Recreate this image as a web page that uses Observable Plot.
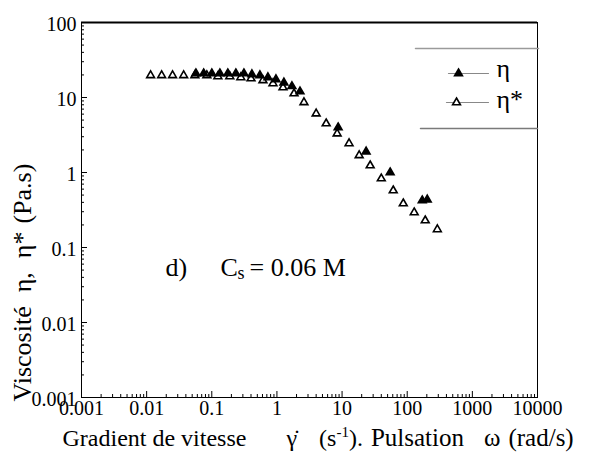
<!DOCTYPE html>
<html><head><meta charset="utf-8">
<script src="https://cdn.jsdelivr.net/npm/d3@7"></script>
<script src="https://cdn.jsdelivr.net/npm/@observablehq/plot@0.6"></script>
<style>
body{margin:0;background:#fff}
svg{font-family:"Liberation Serif",serif}
</style>
</head><body><div id="chart"></div>
<script>
// η* (open triangles) — complex viscosity vs pulsation ω (rad/s)
const etaStarX = [0.0115,0.017,0.025,0.037,0.055,0.084,0.124,0.189,0.279,0.40,0.61,0.87,1.24,1.83,2.6,4.0,5.7,8.4,12.8,18.3,27,40,61,87,128,189,290];
const etaStarY = [19.7,19.7,19.7,19.7,19.7,19.7,19.1,19.1,18.5,17.9,16.9,15.4,13.6,11.3,8.6,6.1,4.5,3.3,2.44,1.69,1.24,0.83,0.575,0.386,0.293,0.229,0.174];
// η (filled triangles) — steady shear viscosity vs shear rate (s-1)
const etaX = [0.057,0.075,0.10,0.133,0.176,0.234,0.311,0.413,0.548,0.727,0.966,1.28,1.70,2.26,8.7,23.4,54.7,170,203];
const etaY = [20.9,20.9,20.9,20.9,20.9,20.9,20.9,20.3,19.7,18.5,17.4,15.8,14.1,12.0,3.98,1.9,1.0,0.423,0.434];

const xTicks = [0.001,0.01,0.1,1,10,100,1000,10000];
const xTickLabels = ["0.001","0.01","0.1","1","10","100","1000","10000"];
const yTicks = [0.001,0.01,0.1,1,10,100];
const yTickLabels = ["0.001","0.01","0.1","1","10","100"];

const legendLabels = ["η","η*"];
const annotation = "d)";
const annotationC = "C";
const annotationS = "s";
const annotationRest = "= 0.06 M";
const xLabel = "Gradient de vitesse";
const yLabel = "Viscosité";

const xLab = new Map(xTicks.map((d,i)=>[d,xTickLabels[i]]));
const yLab = new Map(yTicks.map((d,i)=>[d,yTickLabels[i]]));
const minor = (decades) => decades.slice(0,-1).flatMap(d => [2,3,4,5,6,7,8,9].map(k => +(d*k).toPrecision(3)));
const xMinor = minor(xTicks);
const yMinor = minor(yTicks);

const etaStar = etaStarX.map((x,i)=>({x, y: etaStarY[i]}));
const eta = etaX.map((x,i)=>({x, y: etaY[i]}));

const W = 611, H = 457, mL = 81, mR = 74, mT = 22, mB = 60;
const fw = W - mL - mR, fh = H - mT - mB;
const seg = {draw(ctx, l) { ctx.moveTo(0,0); ctx.lineTo(0,-l); }};

const svg = Plot.plot({
  width: W, height: H,
  marginLeft: mL, marginRight: mR, marginTop: mT, marginBottom: mB,
  x: {type: "log", domain: [0.001, 10000]},
  y: {type: "log", domain: [0.001, 100]},
  style: {fontFamily: "Liberation Serif", color: "black", background: "white", overflow: "visible"},
  marks: [
    Plot.frame({stroke: "black", strokeWidth: 1}),
    Plot.ruleY([100], {strokeWidth: 2}),
    Plot.axisX({ticks: xTicks, tickFormat: d => xLab.get(d), tickSize: 0, tickPadding: 3, label: null, fontSize: 20}),
    Plot.axisY({ticks: yTicks, tickFormat: d => yLab.get(d), tickSize: 0, tickPadding: 5, label: null, fontSize: 20, dy: 2}),
    Plot.tickX(xTicks, {x: d => d, insetTop: fh - 6, stroke: "black"}),
    Plot.tickX(xMinor, {x: d => d, insetTop: fh - 3, stroke: "black"}),
    Plot.tickY(yTicks, {y: d => d, insetRight: fw - 6, stroke: "black"}),
    Plot.tickY(yMinor, {y: d => d, insetRight: fw - 3, stroke: "black"}),
    // data
    Plot.dot(etaStar, {x: "x", y: "y", symbol: "triangle", r: 2.9, fill: "white", stroke: "black", strokeWidth: 1.6}),
    Plot.dot(eta, {x: "x", y: "y", symbol: "triangle", r: 2.9, fill: "black", stroke: "black", strokeWidth: 1.6}),
    // legend box lines
    Plot.vector([0], {frameAnchor: "top-left", dx: 415 - mL, dy: 48 - mT, rotate: 90, length: 123, anchor: "start", shape: seg, stroke: "#9a9a9a", strokeWidth: 1.5}),
    Plot.vector([0], {frameAnchor: "top-left", dx: 420 - mL, dy: 128 - mT, rotate: 90, length: 117, anchor: "start", shape: seg, stroke: "#7a7a7a", strokeWidth: 1.5}),
    // legend entries
    Plot.vector([0], {frameAnchor: "top-left", dx: 448 - mL, dy: 73 - mT, rotate: 90, length: 40, anchor: "start", shape: seg, stroke: "#888", strokeWidth: 1.2}),
    Plot.vector([0], {frameAnchor: "top-left", dx: 446 - mL, dy: 102 - mT, rotate: 90, length: 42, anchor: "start", shape: seg, stroke: "#888", strokeWidth: 1.2}),
    Plot.dot([0], {frameAnchor: "top-left", dx: 458 - mL, dy: 73 - mT, symbol: "triangle", r: 2.9, fill: "black", stroke: "black", strokeWidth: 1.6}),
    Plot.dot([0], {frameAnchor: "top-left", dx: 456 - mL, dy: 102 - mT, symbol: "triangle", r: 2.9, fill: "white", stroke: "black", strokeWidth: 1.6}),
    Plot.text([legendLabels[0]], {text: d => d, frameAnchor: "top-left", dx: 496 - mL, dy: 58 - mT, textAnchor: "start", fontSize: 26}),
    Plot.text([legendLabels[1]], {text: d => d, frameAnchor: "top-left", dx: 496 - mL, dy: 89 - mT, textAnchor: "start", fontSize: 26}),
    // annotation
    Plot.text([annotation], {text: d => d, frameAnchor: "top-left", dx: 165 - mL, dy: 257 - mT, textAnchor: "start", fontSize: 26}),
    Plot.text([annotationC], {text: d => d, frameAnchor: "top-left", dx: 220 - mL, dy: 257 - mT, textAnchor: "start", fontSize: 26}),
    Plot.text([annotationS], {text: d => d, frameAnchor: "top-left", dx: 237 - mL, dy: 266 - mT, textAnchor: "start", fontSize: 18}),
    Plot.text([annotationRest], {text: d => d, frameAnchor: "top-left", dx: 249 - mL, dy: 257 - mT, textAnchor: "start", fontSize: 26}),
    // axis titles
    Plot.text([xLabel], {text: d => d, frameAnchor: "top-left", dx: 62 - mL, dy: 428 - mT, textAnchor: "start", fontSize: 24}),
    Plot.text([yLabel], {text: d => d, frameAnchor: "top-left", dx: 12 - mL, dy: 401 - mT, textAnchor: "start", rotate: -90, fontSize: 26})
  ]
});

// rich x-axis title continuation: γ̇ (s-1). Pulsation ω (rad/s)
d3.select(svg).selectAll("text").filter(function(){ return this.textContent === xLabel; }).each(function(){
  const t = d3.select(this);
  t.append("tspan").attr("dx", 40).text("\u03B3\u0307");
  t.append("tspan").attr("dx", 22).text("(s");
  t.append("tspan").attr("dy", -9).attr("font-size", 15).text("-1");
  t.append("tspan").attr("dy", 9).text(").");
  t.append("tspan").attr("dx", 8).attr("font-size", 25).text("Pulsation");
  t.append("tspan").attr("dx", 20).attr("font-size", 25).text("\u03C9");
  t.append("tspan").attr("dx", 8).attr("font-size", 25).text("(rad/s)");
});
// rich y-axis title continuation: η, η* (Pa.s)
d3.select(svg).selectAll("text").filter(function(){ return this.textContent === yLabel; }).each(function(){
  const t = d3.select(this);
  t.append("tspan").attr("dx", 14).text("\u03B7,");
  t.append("tspan").attr("dx", 14).text("\u03B7*");
  t.append("tspan").attr("dx", 8).text("(Pa.s)");
});

document.getElementById("chart").appendChild(svg);
</script>
</body></html>
